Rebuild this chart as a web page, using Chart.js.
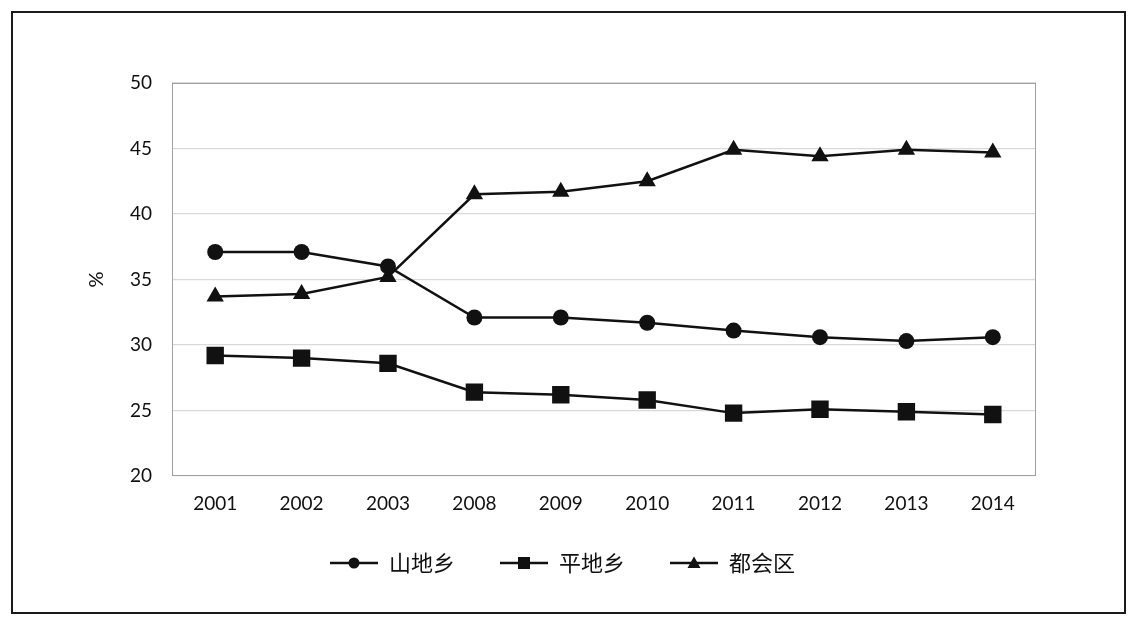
<!DOCTYPE html>
<html>
<head>
<meta charset="utf-8">
<script src="https://cdn.jsdelivr.net/npm/chart.js@4/dist/chart.umd.min.js"></script>
<style>
	html, body { margin: 0; padding: 0; background: #fff; }
	#frame { position: absolute; left: 11px; top: 11px; width: 1111px; height: 599px; border: 2px solid #1a1a1a; }
	#chart { position: absolute; left: 0; top: 0; }
</style>
</head>
<body>
<div id="frame"></div>
<canvas id="chart" width="1139" height="623"></canvas>
<script>
// Years on the x axis.
const years = ["2001", "2002", "2003", "2008", "2009", "2010", "2011", "2012", "2013", "2014"];

// Series values, in percent.
const mountain = [37.1, 37.1, 36.0, 32.1, 32.1, 31.7, 31.1, 30.6, 30.3, 30.6];
const plain = [29.2, 29.0, 28.6, 26.4, 26.2, 25.8, 24.8, 25.1, 24.9, 24.7];
const metro = [33.7, 33.9, 35.2, 41.5, 41.7, 42.5, 44.9, 44.4, 44.9, 44.7];

// Series names.
const seriesNames = ["山地乡", "平地乡", "都会区"];

const ink = "#111";

// Build a small picture of a line with a marker, used as the legend symbol.
// The first 20px are left empty so items get their gap without a big legend padding.
function legendSymbol(kind) {
	const c = document.createElement("canvas");
	c.width = 68;
	c.height = 20;
	const ctx = c.getContext("2d");
	ctx.strokeStyle = ink;
	ctx.fillStyle = ink;
	ctx.lineWidth = 2.5;
	ctx.beginPath();
	ctx.moveTo(20, 10);
	ctx.lineTo(68, 10);
	ctx.stroke();
	ctx.beginPath();
	if (kind === "circle") {
		ctx.arc(44, 10, 5.5, 0, Math.PI * 2);
	} else if (kind === "rect") {
		ctx.rect(38, 4, 12, 12);
	} else {
		ctx.moveTo(44, 3.5);
		ctx.lineTo(50.5, 15);
		ctx.lineTo(37.5, 15);
		ctx.closePath();
	}
	ctx.fill();
	return c;
}

const symbols = [legendSymbol("circle"), legendSymbol("rect"), legendSymbol("triangle")];

// Draws the grey box round the plot area.
const plotBorder = {
	id: "plotBorder",
	afterDatasetsDraw(chart) {
		const a = chart.chartArea;
		const ctx = chart.ctx;
		ctx.save();
		ctx.strokeStyle = "#a0a0a0";
		ctx.lineWidth = 1;
		ctx.strokeRect(a.left + 0.5, a.top + 0.5, a.right - a.left - 1, a.bottom - a.top - 1);
		ctx.restore();
	}
};

function makeDataset(label, data, style, radius) {
	return {
		label: label,
		data: data,
		borderColor: ink,
		backgroundColor: ink,
		borderWidth: 2.5,
		pointStyle: style,
		pointRadius: radius,
		pointHoverRadius: radius,
		pointBackgroundColor: ink,
		pointBorderColor: ink,
		pointBorderWidth: 0,
		tension: 0,
		fill: false
	};
}

new Chart(document.getElementById("chart"), {
	type: "line",
	data: {
		labels: years,
		datasets: [
			makeDataset(seriesNames[0], mountain, "circle", 8),
			makeDataset(seriesNames[1], plain, "rect", 12.3),
			makeDataset(seriesNames[2], metro, "triangle", 10)
		]
	},
	options: {
		responsive: false,
		animation: false,
		layout: {
			padding: { left: 69, right: 103, top: 83, bottom: 39 }
		},
		scales: {
			x: {
				offset: true,
				grid: { display: false, drawTicks: false },
				border: { display: false },
				ticks: {
					padding: 16,
					maxRotation: 0,
					color: "#111",
					font: { family: "Lato", size: 19 }
				},
				afterFit(scale) { scale.height = 51; }
			},
			y: {
				min: 20,
				max: 50,
				grid: { color: "#d9d9d9", lineWidth: 1.3, drawTicks: false },
				border: { display: false },
				ticks: {
					stepSize: 5,
					padding: 20,
					color: "#111",
					font: { family: "Lato", size: 19 }
				},
				title: {
					display: true,
					text: "%",
					color: "#111",
					padding: { top: 18, bottom: 0 },
					font: { family: "Lato", size: 20, lineHeight: 1 }
				},
				afterFit(scale) { scale.width = 103; }
			}
		},
		plugins: {
			legend: {
				position: "bottom",
				labels: {
					usePointStyle: true,
					pointStyleWidth: 68,
					boxHeight: 30,
					padding: 25,
					color: "#111",
					font: { family: "'Noto Sans CJK SC'", size: 22 },
					generateLabels(chart) {
						const items = Chart.defaults.plugins.legend.labels.generateLabels(chart);
						items.forEach(function (item, i) {
							item.pointStyle = symbols[i];
						});
						return items;
					}
				}
			},
			tooltip: { enabled: false }
		}
	},
	plugins: [plotBorder]
});
</script>
</body>
</html>
